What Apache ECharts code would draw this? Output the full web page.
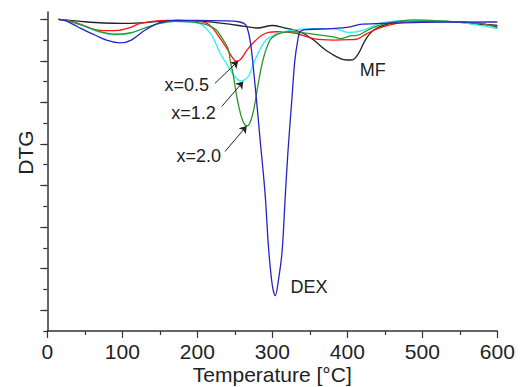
<!DOCTYPE html>
<html>
<head>
<meta charset="utf-8">
<script src="https://cdn.jsdelivr.net/npm/echarts@6/dist/echarts.min.js"></script>
<style>
html,body{margin:0;padding:0;background:#fff;}
#chart{width:523px;height:387px;}
</style>
</head>
<body>
<div id="chart"></div>
<script>
// Temperature [°C] vs DTG (arbitrary units)
const xTicks = [0, 100, 200, 300, 400, 500, 600];

const dexData = [[15,0],[25,-0.08],[41,-0.37],[64,-0.77],[80,-1.02],[97,-1.14],[112,-1.0],[130,-0.53],[150,-0.16],[170,-0.05],[200,-0.05],[240,-0.08],[255,-0.12],[262,-0.2],[266,-0.35],[271,-1.15],[276,-2.8],[280,-4.3],[284,-5.9],[288,-7.4],[291,-8.7],[295,-11.0],[300,-12.8],[304,-13.3],[308,-12.6],[313,-11.2],[317,-8.7],[321,-6.3],[326,-3.9],[330,-2.0],[334,-1.0],[337,-0.6],[345,-0.5],[380,-0.45],[404,-0.37],[417,-0.25],[444,-0.2],[500,-0.15],[600,-0.13]];

const mfData = [[15,0],[30,-0.05],[50,-0.12],[75,-0.18],[100,-0.2],[125,-0.17],[150,-0.1],[175,-0.06],[200,-0.1],[225,-0.16],[245,-0.25],[265,-0.35],[280,-0.42],[300,-0.3],[315,-0.4],[337,-0.6],[355,-1.0],[372,-1.5],[390,-1.88],[400,-1.96],[407,-1.95],[415,-1.64],[424,-1.0],[435,-0.53],[457,-0.2],[479,-0.08],[532,-0.1],[577,-0.24],[600,-0.29]];

const x05Data = [[15,0],[30,-0.08],[45,-0.25],[64,-0.5],[80,-0.55],[95,-0.53],[110,-0.4],[124,-0.2],[140,-0.1],[160,-0.06],[190,-0.07],[204,-0.1],[213,-0.2],[221,-0.45],[230,-0.9],[239,-1.38],[246,-1.8],[252,-2.02],[258,-1.92],[266,-1.5],[275,-1.12],[286,-0.77],[295,-0.63],[306,-0.6],[320,-0.62],[333,-0.69],[355,-0.93],[381,-1.0],[404,-0.98],[413,-0.95],[426,-0.69],[444,-0.4],[466,-0.2],[488,-0.1],[532,-0.1],[577,-0.2],[600,-0.37]];

const x12Data = [[15,0],[30,-0.1],[50,-0.35],[70,-0.62],[90,-0.75],[110,-0.68],[130,-0.42],[150,-0.2],[170,-0.1],[190,-0.12],[204,-0.22],[212,-0.45],[221,-0.88],[230,-1.6],[239,-2.15],[244,-2.45],[252,-2.84],[258,-2.96],[264,-2.9],[270,-2.62],[277,-1.95],[283,-1.5],[288,-1.17],[293,-0.95],[306,-0.69],[324,-0.53],[350,-0.45],[381,-0.45],[399,-0.62],[404,-0.63],[421,-0.53],[444,-0.2],[466,-0.08],[500,-0.05],[550,-0.15],[600,-0.45]];

const x20Data = [[15,0],[30,-0.1],[50,-0.33],[70,-0.6],[90,-0.72],[110,-0.66],[130,-0.42],[150,-0.2],[170,-0.1],[190,-0.12],[204,-0.18],[215,-0.3],[225,-0.5],[232,-0.85],[241,-1.4],[244,-2.0],[248,-2.7],[253,-3.8],[258,-4.6],[262,-5.0],[266,-5.13],[270,-5.0],[275,-4.4],[281,-3.15],[288,-1.9],[297,-1.0],[305,-0.75],[315,-0.63],[324,-0.6],[350,-0.69],[381,-0.85],[392,-0.93],[404,-0.8],[413,-0.78],[430,-0.47],[452,-0.2],[488,-0.03],[532,-0.1],[577,-0.2],[600,-0.4]];

const labelNames = ['x=0.5', 'x=1.2', 'x=2.0', 'MF', 'DEX'];
const labelPos = [[186,-3.16],[195,-4.49],[202,-6.6],[434,-2.44],[349,-12.9]];
const arrowFrom = [[223.6,-3.08],[232.5,-4.2],[237,-6.36]];
const arrowTo = [[254.5,-2.01],[261.3,-3.0],[265.9,-5.13]];

const yMinorTicks = [];
for (let v = -15; v <= 0; v++) yMinorTicks.push(v);
const yMajorTicks = yMinorTicks.filter(v => v % 2 === 0);

const font = '"Liberation Sans", Arial, sans-serif';
const axisColor = '#333';

const chart = echarts.init(document.getElementById('chart'), null, {renderer: 'svg'});

function line(name, data, color) {
  return {
    name: name, type: 'line', data: data, smooth: 0.35, symbol: 'none',
    lineStyle: {color: color, width: 1.3}, itemStyle: {color: color}, z: 3
  };
}

const series = [
  line('MF', mfData, '#222222'),
  line('x=0.5', x05Data, '#ff1414'),
  line('x=1.2', x12Data, '#2ff0f0'),
  line('x=2.0', x20Data, '#2a962a'),
  line('DEX', dexData, '#2323c8')
];

series[0].markPoint = {
  symbol: 'rect', symbolSize: 1, silent: true,
  itemStyle: {color: 'rgba(0,0,0,0)'},
  label: {show: true, position: 'inside', formatter: '{b}', color: '#222', fontSize: 18, fontFamily: font},
  data: labelNames.map((n, i) => ({name: n, coord: labelPos[i]}))
};
series[1].markLine = {
  silent: true, symbol: ['none', 'arrow'], symbolSize: 7,
  lineStyle: {color: '#222', width: 1, type: 'solid'},
  label: {show: false},
  data: arrowFrom.map((p, i) => [{coord: p}, {coord: arrowTo[i]}])
};

chart.setOption({
  animation: false,
  backgroundColor: '#fff',
  grid: {left: 47.3, right: 25.7, top: 12, bottom: 56, containLabel: false, outerBoundsMode: 'none'},
  xAxis: {
    type: 'value', min: 0, max: 600, interval: 100,
    name: 'Temperature [°C]', nameLocation: 'middle', nameGap: 32, nameMoveOverlap: false,
    nameTextStyle: {fontSize: 21, color: '#222', fontFamily: font, lineHeight: 22},
    axisLine: {show: true, onZero: false, lineStyle: {color: axisColor, width: 1.5}},
    axisTick: {show: true, length: 7, lineStyle: {color: axisColor, width: 1.2}},
    minorTick: {show: true, splitNumber: 2, length: 4, lineStyle: {color: axisColor, width: 1.2}},
    axisLabel: {fontSize: 21, color: '#222', fontFamily: font, margin: 10,
      customValues: xTicks},
    splitLine: {show: false}
  },
  yAxis: [{
    type: 'value', min: -15, max: 0.35,
    name: 'DTG', nameLocation: 'middle', nameGap: 11, nameMoveOverlap: false,
    nameTextStyle: {fontSize: 21, color: '#222', fontFamily: font, padding: [0, 0, 0, 38]},
    axisLine: {show: true, onZero: false, lineStyle: {color: axisColor, width: 1.5}},
    axisTick: {show: true, length: 4, customValues: yMinorTicks, lineStyle: {color: axisColor, width: 1.2}},
    axisLabel: {show: false},
    splitLine: {show: false}
  }, {
    type: 'value', min: -15, max: 0.35, position: 'left',
    axisLine: {show: false, onZero: false},
    axisTick: {show: true, length: 7, customValues: yMajorTicks, lineStyle: {color: axisColor, width: 1.2}},
    axisLabel: {show: false},
    splitLine: {show: false}
  }],
  series: series
});
</script>
</body>
</html>
